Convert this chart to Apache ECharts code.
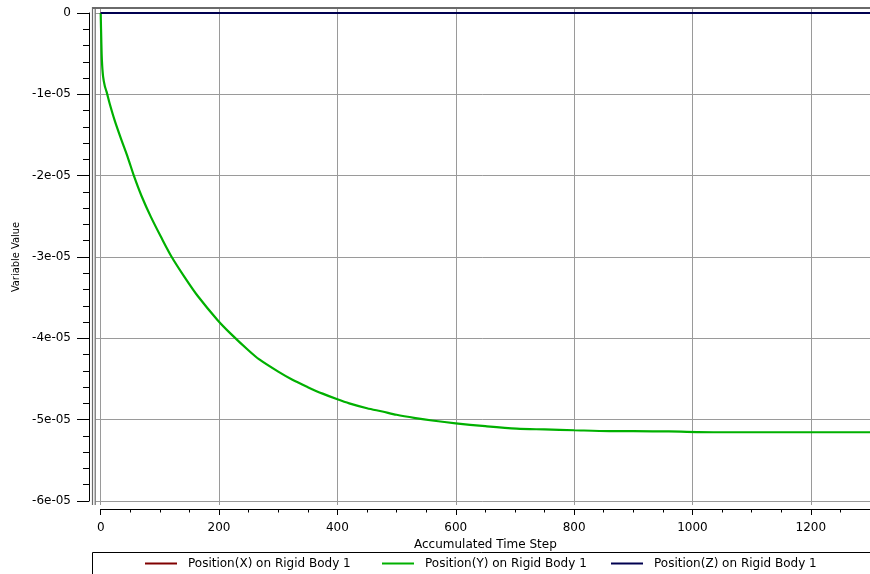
<!DOCTYPE html>
<html>
<head>
<meta charset="utf-8">
<script src="https://cdn.jsdelivr.net/npm/echarts@6/dist/echarts.min.js"></script>
<style>
html,body{margin:0;padding:0;background:#fff;}
#chart{width:870px;height:574px;}
</style>
</head>
<body>
<div id="chart"></div>
<script>
// ---------- data ----------
const timeSteps = [0, 1, 2, 4, 7, 10, 15, 24, 35, 46, 56, 69, 85, 102, 120, 142, 164, 198, 220, 250,
  268, 300, 324, 350, 375, 400, 420, 450, 476, 500, 532, 560, 600, 650, 703, 750, 800, 860, 900, 960,
  1045, 1100, 1200, 1300];
const posY = [0, -0.33e-5, -0.58e-5, -0.78e-5, -0.9e-5, -0.97e-5, -1.11e-5, -1.33e-5, -1.56e-5, -1.78e-5,
  -2.0e-5, -2.25e-5, -2.51e-5, -2.755e-5, -3.0e-5, -3.25e-5, -3.48e-5, -3.78e-5, -3.945e-5, -4.15e-5,
  -4.26e-5, -4.41e-5, -4.51e-5, -4.60e-5, -4.68e-5, -4.75e-5, -4.80e-5, -4.86e-5, -4.90e-5, -4.94e-5,
  -4.98e-5, -5.01e-5, -5.045e-5, -5.08e-5, -5.11e-5, -5.12e-5, -5.13e-5, -5.14e-5, -5.14e-5, -5.145e-5,
  -5.155e-5, -5.155e-5, -5.155e-5, -5.155e-5];
const posXSteps = [0, 1300];
const posX = [0, 0];
const posZSteps = [0, 1300];
const posZ = [0, 0];

const xTickValues = [0, 200, 400, 600, 800, 1000, 1200];
const yTickValues = [0, -1e-5, -2e-5, -3e-5, -4e-5, -5e-5, -6e-5];
const yTickLabels = ['0', '-1e-05', '-2e-05', '-3e-05', '-4e-05', '-5e-05', '-6e-05'];

const seriesNames = ['Position(X) on Rigid Body 1', 'Position(Y) on Rigid Body 1', 'Position(Z) on Rigid Body 1'];
const seriesColors = ['#800000', '#00b000', '#000050'];
const xAxisName = 'Accumulated Time Step';
const yAxisName = 'Variable Value';

// ---------- layout ----------
const W = 870, H = 574;
const plotL = 100.7, plotT = 13, plotB = 501;       // data area (x=0 .. right edge, y=0 .. -6e-5)
const frameL = 95.6, frameT = 9, frameB = 505;       // grid-line area
const xMin = xTickValues[0], xMax = 1300, xInt = 200;
const yMin = yTickValues[yTickValues.length - 1], yMax = yTickValues[0], yInt = 1e-5;
const pxPerX = (W - plotL) / (xMax - xMin);
const pxPerY = (plotB - plotT) / (yMax - yMin);
const frameXMin = xMin - (plotL - frameL) / pxPerX;
const frameYMax = yMax + (plotT - frameT) / pxPerY;
const frameYMin = yMin - (frameB - plotB) / pxPerY;

const font = 'DejaVu Sans';
const zip = (a, b) => a.map((v, i) => [v, b[i]]);

const chart = echarts.init(document.getElementById('chart'), null, {renderer: 'canvas'});

const gridLine = {show: true, lineStyle: {color: '#9a9a9a', width: 1}, showMinLine: false, showMaxLine: false};

chart.setOption({
  animation: false,
  backgroundColor: '#fff',
  grid: [
    {left: plotL, top: plotT, right: 0, bottom: H - plotB},
    {left: frameL, top: frameT, right: 0, bottom: H - frameB}
  ],
  xAxis: [
    {
      gridIndex: 0, type: 'value', position: 'bottom', min: xMin, max: xMax, interval: xInt, offset: 8,
      axisLine: {show: true, onZero: false, lineStyle: {color: '#000', width: 1}},
      axisTick: {show: true, length: 6, lineStyle: {color: '#000'}},
      axisLabel: {show: true, margin: 13, color: '#000', fontFamily: font, fontSize: 12, showMaxLabel: false,
        formatter: v => (xTickValues.indexOf(v) >= 0 ? String(v) : '')},
      splitLine: {show: false},
      name: xAxisName, nameLocation: 'middle', nameGap: 25,
      nameTextStyle: {color: '#000', fontFamily: font, fontSize: 12}
    },
    {
      gridIndex: 0, type: 'value', position: 'bottom', min: xMin, max: xMax, interval: xInt / 4, offset: 8,
      axisLine: {show: false, onZero: false},
      axisTick: {show: true, length: 3.5, lineStyle: {color: '#000'}},
      axisLabel: {show: false},
      splitLine: {show: false}
    },
    {
      gridIndex: 1, type: 'value', min: frameXMin, max: xMax, splitNumber: 7,
      axisLine: {show: false, onZero: false}, axisTick: {show: false}, axisLabel: {show: false},
      splitLine: gridLine
    }
  ],
  yAxis: [
    {
      gridIndex: 0, type: 'value', min: yMin, max: yMax, interval: yInt, offset: plotL - 89,
      axisLine: {show: true, onZero: false, lineStyle: {color: '#000', width: 1}},
      axisTick: {show: true, length: 12, lineStyle: {color: '#000'}},
      minorTick: {show: true, splitNumber: 5, length: 6, lineStyle: {color: '#000'}},
      axisLabel: {show: true, margin: 18, color: '#000', fontFamily: font, fontSize: 12,
        formatter: v => {
          const i = Math.round((yMax - v) / yInt);
          return yTickLabels[i] !== undefined ? yTickLabels[i] : '';
        }},
      splitLine: {show: false},
      name: yAxisName, nameLocation: 'middle', nameRotate: 90, nameGap: 63,
      nameTextStyle: {color: '#000', fontFamily: 'DejaVu Sans Condensed', fontSize: 11}
    },
    {
      gridIndex: 1, type: 'value', min: frameYMin, max: frameYMax, splitNumber: 6,
      axisLine: {show: false, onZero: false}, axisTick: {show: false}, axisLabel: {show: false},
      splitLine: gridLine
    }
  ],
  legend: seriesNames.map((n, i) => ({
    data: [n], left: [145, 382, 611][i], top: 557.5, orient: 'horizontal', padding: 0,
    icon: 'rect', itemWidth: 32, itemHeight: 2, selectedMode: false,
    textStyle: {color: '#000', fontFamily: font, fontSize: 12, padding: [0, 0, 0, 6]}
  })),
  graphic: [
    {type: 'line', shape: {x1: 92, y1: 8, x2: W, y2: 8}, style: {stroke: '#6a6a6a', lineWidth: 2}, z: 100},
    {type: 'line', shape: {x1: 92.5, y1: 7, x2: 92.5, y2: frameB}, style: {stroke: '#6a6a6a', lineWidth: 1.2}, z: 100},
    {type: 'line', shape: {x1: 95.2, y1: 7, x2: 95.2, y2: frameB}, style: {stroke: '#6a6a6a', lineWidth: 1.2}, z: 100},
    {type: 'rect', shape: {x: 92.5, y: 552.5, width: 900, height: 60}, style: {fill: 'none', stroke: '#000', lineWidth: 1}, z: 100}
  ],
  series: [
    {name: seriesNames[0], type: 'line', xAxisIndex: 0, yAxisIndex: 0, data: zip(posXSteps, posX),
      color: seriesColors[0], symbol: 'none', lineStyle: {width: 2}, z: 3},
    {name: seriesNames[1], type: 'line', xAxisIndex: 0, yAxisIndex: 0, data: zip(timeSteps, posY),
      color: seriesColors[1], symbol: 'none', smooth: 0.3, lineStyle: {width: 2.2}, z: 4},
    {name: seriesNames[2], type: 'line', xAxisIndex: 0, yAxisIndex: 0, data: zip(posZSteps, posZ),
      color: seriesColors[2], symbol: 'none', lineStyle: {width: 2}, z: 5}
  ]
});
</script>
</body>
</html>
